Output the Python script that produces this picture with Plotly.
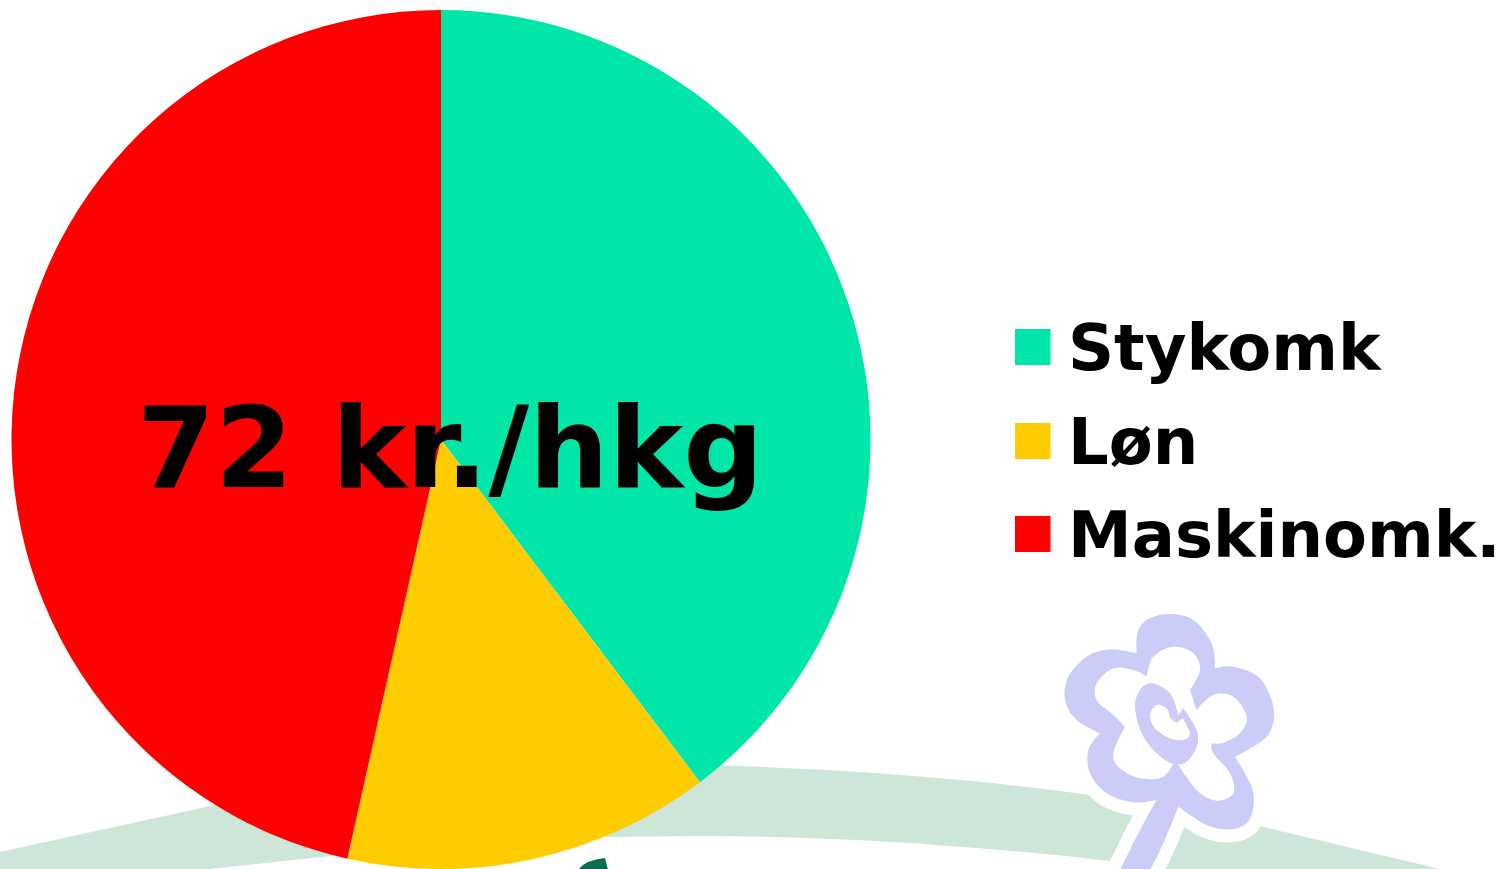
import plotly.graph_objects as go

categories = ["Stykomk", "Løn", "Maskinomk."]
values = [39.7, 13.8, 46.5]
colors = ["#00E6A8", "#FFCC00", "#FF0000"]
center_label = "72 kr./hkg"

W, H = 1505, 869
def px(x): return round(x / W, 5)
def py(y): return round(1 - y / H, 5)
def P(x, y): return f"{px(x)},{py(y)}"

def tangent(prev, cur, nxt):
    if len(cur) > 2:
        return (0, 0)
    return ((nxt[0] - prev[0]) / 6, (nxt[1] - prev[1]) / 6)

def smooth(points):
    n = len(points)
    d = "M" + P(*points[0][:2])
    for i in range(n):
        p0, p1, p2, p3 = points[i - 1], points[i], points[(i + 1) % n], points[(i + 2) % n]
        t1, t2 = tangent(p0, p1, p2), tangent(p1, p2, p3)
        c1 = (p1[0] + t1[0], p1[1] + t1[1])
        c2 = (p2[0] - t2[0], p2[1] - t2[1])
        d += f" C{P(*c1)} {P(*c2)} {P(*p2[:2])}"
    return d + " Z"

def z(points):
    return [(1000 + p[0] / 3, 590 + p[1] / 3) + tuple(p[2:]) for p in points]

C = 1
flower_outer = z([(505,72),(580,90),(635,160),(645,235,C),(700,230),(780,265),(822,360),(800,440),(705,500,C),
    (755,590),(760,650),(740,700),(690,718),(620,705),(535,650,C),(490,760),(445,850,C),(355,850,C),(420,720),(470,630,C),
    (400,637),(320,610),(270,550),(265,480),(300,430,C),(230,390),(195,330),(205,260),(260,200),(330,178),
    (410,190,C),(412,130),(440,90)])
flower_inner = z([(440,260,C),(460,200),(520,170),(580,190),(600,240),(570,300,C),(590,360,C),(640,315),(700,320),
    (740,380),(720,430),(670,458),(635,460,C),(640,490),(690,550),(700,610),(650,632),(590,600),(525,510,C),
    (490,560),(420,565),(360,535),(340,490),(375,410,C),(340,375),(290,330),(290,280),(340,235),(400,240)])
spiral = z([(405,350),(420,300),(455,280),(510,310),(535,375,C),(550,355,C),(590,420),(590,470),(560,515),
    (520,522),(470,490),(425,430)])
spiral_hole = z([(450,375),(470,345),(500,355),(512,385),(530,398,C),(548,385,C),(570,430),(550,450),(510,445),(465,415)])

band_path = ("M" + P(0, 852) + " L" + P(215, 805) + " L" + P(441, 771) + " L" + P(700, 765)
             + " C" + P(830, 768) + " " + P(970, 778) + " " + P(1090, 795)
             + " L" + P(1260, 826) + " L" + P(1440, 869) + " L" + P(1130, 869) + " L" + P(1110, 861)
             + " C" + P(970, 845) + " " + P(830, 836) + " " + P(700, 836)
             + " L" + P(607, 837) + " L" + P(340, 855) + " L" + P(209, 869) + " L" + P(0, 869) + " Z")
leaf_path = "M" + P(578, 870) + " Q" + P(585, 860) + " " + P(605, 858) + " L" + P(608, 870) + " Z"

PURPLE = "#CCCCF8"
def deco(path, fill, line=None, lw=0):
    return dict(type="path", xref="paper", yref="paper", layer="below", path=path, fillcolor=fill,
                line=dict(color=line or fill, width=lw))

shapes = [
    deco(band_path, "#CDE6D8"),
    deco(leaf_path, "#0A6E50"),
    deco(smooth(flower_outer), "#FFFFFF", "#FFFFFF", 26),
    deco(smooth(flower_outer), PURPLE),
    deco(smooth(flower_inner), "#FFFFFF"),
    deco(smooth(spiral), PURPLE),
    deco(smooth(spiral_hole), "#FFFFFF"),
]

fig = go.Figure(go.Pie(
    labels=categories, values=values, sort=False, direction="clockwise", rotation=0,
    marker=dict(colors=colors, line=dict(width=0)), textinfo="none", hoverinfo="label+percent",
    domain=dict(x=[11 / W, 871 / W], y=[0, 1 - 10 / H]), showlegend=False,
))

FONT = "DejaVu Sans"
annotations = [dict(text=f"<b>{center_label}</b>", x=px(450), y=py(448), xref="paper", yref="paper",
                    xanchor="center", yanchor="middle", showarrow=False,
                    font=dict(family=FONT, size=112, color="#000000"))]
legend_y = [347, 441, 534]
for name, color, y in zip(categories, colors, legend_y):
    shapes.append(dict(type="rect", xref="paper", yref="paper", x0=px(1015), x1=px(1050.5), y0=py(y - 18), y1=py(y + 18),
                       fillcolor=color, line=dict(width=0), layer="above"))
    annotations.append(dict(text=f"<b>{name}</b>", x=px(1066), y=py(y + 1), xref="paper", yref="paper",
                            xanchor="left", yanchor="middle", showarrow=False,
                            font=dict(family=FONT, size=64, color="#000000")))

fig.update_layout(width=W, height=H, margin=dict(l=0, r=0, t=0, b=0), paper_bgcolor="white", plot_bgcolor="white",
                  shapes=shapes, annotations=annotations)
fig.write_html("out.html", config=dict(displayModeBar=False),
               post_script="document.body.style.margin='0';document.documentElement.style.overflow='hidden';")
